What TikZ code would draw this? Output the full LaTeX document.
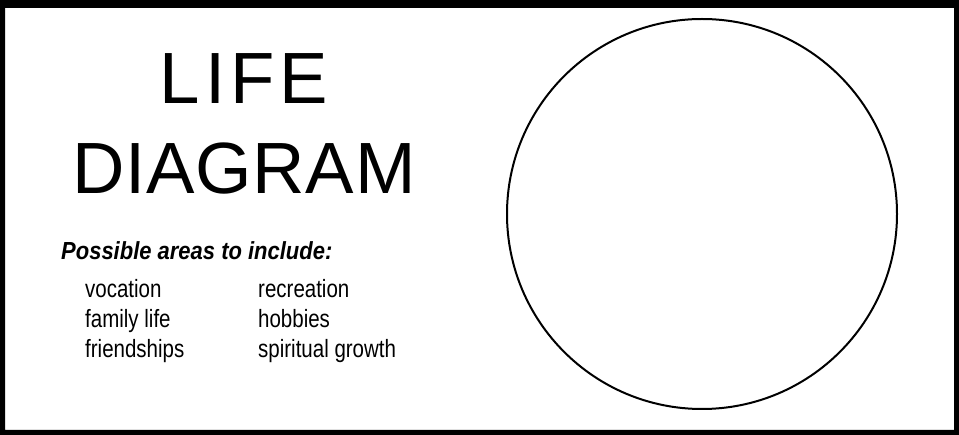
\documentclass[tikz,border=0pt]{standalone}
\usepackage{fontspec}
\setmainfont{Liberation Sans}
\newfontfamily\narrowfont[FakeStretch=0.82]{Liberation Sans}
\newfontfamily\headfont[FakeStretch=0.89]{Liberation Sans}
\usetikzlibrary{positioning}

\begin{document}
\begin{tikzpicture}[
    x=1pt, y=-1pt,
    title/.style={anchor=base, inner sep=0pt, font=\fontsize{72.6}{80}\selectfont},
    heading/.style={anchor=base west, inner sep=0pt, font=\headfont\bfseries\itshape\fontsize{24.7}{28}\selectfont},
    item/.style={anchor=base west, inner sep=0pt, font=\narrowfont\fontsize{25}{30}\selectfont}
]
\useasboundingbox (0,0) rectangle (959,435);
% frame
\fill[black, even odd rule] (0,0) rectangle (959,435) (5,8) rectangle (954,430);

\node[title] (life) at (244,104) {\addfontfeature{LetterSpace=7}LIFE};
\node[title] (diagram) at (244,194) {\addfontfeature{LetterSpace=1}DIAGRAM};

\node[heading] (areas) at (61,260) {Possible areas to include:};

\node[item] (vocation) at (85,298) {vocation};
\node[item] (family) at (85,328) {family life};
\node[item] (friends) at (85,358) {friendships};
\node[item] (recreation) at (258,298) {recreation};
\node[item] (hobbies) at (258,328) {hobbies};
\node[item] (spiritual) at (258,358) {spiritual growth};

% empty circle to fill in
\draw[line width=2pt] (702,214) circle (195pt);
\end{tikzpicture}
\end{document}
